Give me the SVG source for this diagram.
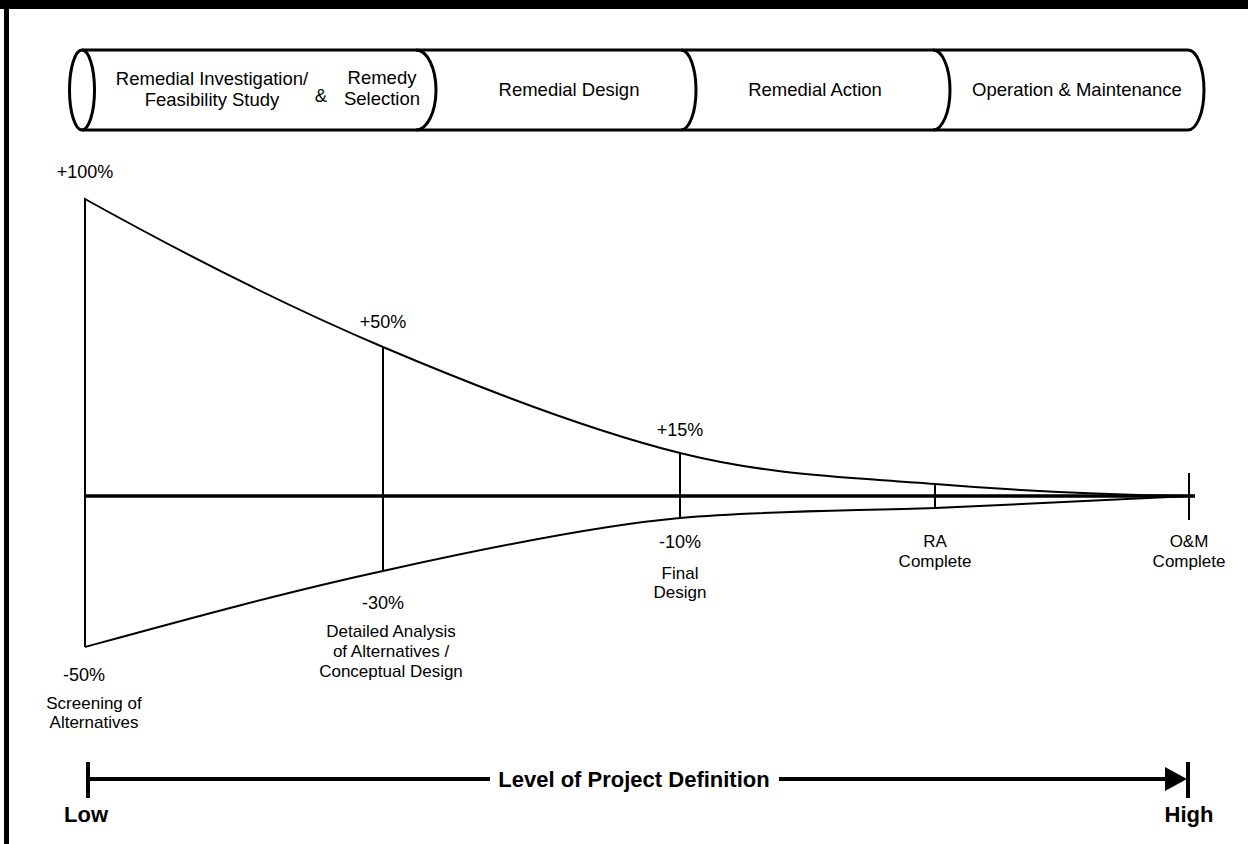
<svg xmlns="http://www.w3.org/2000/svg" width="1248" height="844" viewBox="0 0 1248 844">
<style>
text{font-family:"Liberation Sans",Arial,sans-serif;fill:#000}
.cyl{font-size:18.5px;text-anchor:middle}
.pct{font-size:18px;text-anchor:middle}
.lbl{font-size:17px;text-anchor:middle}
.bold{font-size:22px;font-weight:bold;text-anchor:middle}
.stk{fill:none;stroke:#000;stroke-width:3}
.thin{fill:none;stroke:#000;stroke-width:2}
</style>
<rect x="0" y="0" width="1248" height="844" fill="#fff"/>
<rect x="0" y="0" width="1248" height="9" fill="#000"/>
<rect x="4" y="0" width="5" height="844" fill="#000"/>

<g id="phases">
  <path class="stk" d="M82,50 H1188 A16,40 0 0 1 1188,130 H82"/>
  <ellipse class="stk" cx="82" cy="90" rx="12.5" ry="40" fill="#fff"/>
  <path class="stk" d="M416,50 A20,40 0 0 1 416,130"/>
  <path class="stk" d="M681,50 A15,40 0 0 1 681,130"/>
  <path class="stk" d="M933,50 A17,40 0 0 1 933,130"/>
</g>
<g id="phase-rifs">
  <text class="cyl" x="212" y="85">Remedial Investigation/</text>
  <text class="cyl" x="212" y="106">Feasibility Study</text>
  <text class="cyl" x="321" y="102">&amp;</text>
  <text class="cyl" x="382" y="84">Remedy</text>
  <text class="cyl" x="382" y="105">Selection</text>
</g>
<g id="phase-rd"><text class="cyl" x="569" y="96">Remedial Design</text></g>
<g id="phase-ra"><text class="cyl" x="815" y="96">Remedial Action</text></g>
<g id="phase-om"><text class="cyl" x="1077" y="96">Operation &amp; Maintenance</text></g>

<g id="connectors">
  <line x1="85" y1="496" x2="1195" y2="496" stroke="#000" stroke-width="3.5"/>
  <path class="thin" d="M85,647 V199 C184,254 284,305 383,347 C482,389 588,430 680,453 C772,476 850,477 935,484 C1020,491 1120,495 1190,496"/>
  <path class="thin" d="M85,647 C184,620 284,592.5 383,571 C482,549 600,525 680,518 C765,510.6 850,511 935,508 C1020,504.5 1110,499 1190,496"/>
  <line class="thin" x1="383" y1="347" x2="383" y2="571"/>
  <line class="thin" x1="680" y1="453" x2="680" y2="518"/>
  <line class="thin" x1="935" y1="484" x2="935" y2="508"/>
  <line class="thin" x1="1189" y1="473" x2="1189" y2="520"/>
  <line x1="88" y1="779" x2="490" y2="779" stroke="#000" stroke-width="4"/>
  <line x1="779" y1="779" x2="1168" y2="779" stroke="#000" stroke-width="4"/>
  <line x1="88" y1="762" x2="88" y2="798" stroke="#000" stroke-width="4"/>
  <line x1="1188" y1="762" x2="1188" y2="798" stroke="#000" stroke-width="4"/>
  <polygon points="1165,767 1187,779 1165,791" fill="#000"/>
</g>

<g id="screening">
  <text class="pct" x="85" y="178">+100%</text>
  <text class="pct" x="84" y="681">-50%</text>
  <text class="lbl" x="94" y="709">Screening of</text>
  <text class="lbl" x="94" y="728">Alternatives</text>
</g>
<g id="detailed">
  <text class="pct" x="383" y="328">+50%</text>
  <text class="pct" x="383" y="609">-30%</text>
  <text class="lbl" x="391" y="637">Detailed Analysis</text>
  <text class="lbl" x="391" y="657">of Alternatives /</text>
  <text class="lbl" x="391" y="677">Conceptual Design</text>
</g>
<g id="final">
  <text class="pct" x="680" y="436">+15%</text>
  <text class="pct" x="680" y="548">-10%</text>
  <text class="lbl" x="680" y="579">Final</text>
  <text class="lbl" x="680" y="598">Design</text>
</g>
<g id="ra-complete">
  <text class="lbl" x="935" y="547">RA</text>
  <text class="lbl" x="935" y="567">Complete</text>
</g>
<g id="om-complete">
  <text class="lbl" x="1189" y="547">O&amp;M</text>
  <text class="lbl" x="1189" y="567">Complete</text>
</g>
<g id="axis-labels">
  <text class="bold" x="634" y="787">Level of Project Definition</text>
  <text class="bold" x="86" y="822">Low</text>
  <text class="bold" x="1189" y="822">High</text>
</g>
</svg>
